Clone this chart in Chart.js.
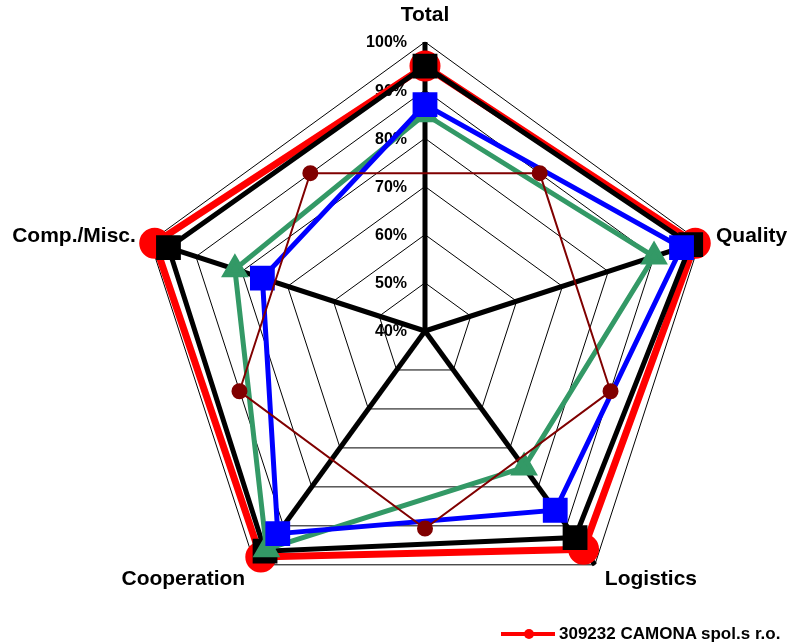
<!DOCTYPE html>
<html>
<head>
  <meta charset="utf-8">
  <title>Supplier rating</title>
  <script src="https://cdn.jsdelivr.net/npm/chart.js@4.4.1/dist/chart.umd.min.js"></script>
  <style>
    html, body { margin: 0; padding: 0; background: #fff; }
    #wrap { width: 788px; height: 643px; position: relative; overflow: hidden; }
    /* canvas a bit wider than the page so the web can use the room on the right */
    #myChart { position: absolute; left: -1px; top: 0; }
    .legend {
      position: absolute; left: 500px; top: 623px; height: 22px;
      display: flex; align-items: center;
      font: bold 17px "Liberation Sans", Arial, sans-serif; color: #000;
      white-space: nowrap;
    }
    .legend canvas { margin-right: 3px; }
  </style>
</head>
<body>
<div id="wrap">
  <canvas id="myChart" width="826" height="643"></canvas>
  <div class="legend" id="legend"></div>
</div>

<script>
// axes of the rating (clockwise from top)
var categories = ['Total', 'Quality', 'Logistics', 'Cooperation', 'Comp./Misc.'];
var tickLabels = ['40%', '50%', '60%', '70%', '80%', '90%', '100%'];
var tickValues = [40, 50, 60, 70, 80, 90, 100];

// series values in %, one per category
var camona = [95, 99, 96, 98, 99];
var seriesBlack = [95, 98, 93, 96.5, 96];
var seriesBlue = [87, 96, 86, 92, 75.5];
var seriesGreen = [85, 90, 75, 96, 81.5];
// this one sits between the axes (Total-Quality, Quality-Logistics, ...)
var seriesMaroon = [80.5, 80.5, 81, 80.5, 80.5];

var FONT = '"Liberation Sans", Arial, sans-serif';
var labelPad = [26, 17, 17, 17, 15];          // gap between web and axis title
var labelLine = ['2px', '1px', '1px', '1px', '1px'];

// 10 spokes: even = real axes, odd = the in-between positions
var labels = [];
categories.forEach(function(c) { labels.push(c); labels.push(''); });

function onAxes(vals) {
  var out = [];
  vals.forEach(function(v) { out.push(v); out.push(null); });
  return out;
}
function between(vals) {
  var out = [];
  vals.forEach(function(v) { out.push(null); out.push(v); });
  return out;
}

var webPlugin = {
  id: 'web',
  beforeDatasetsDraw: function(chart) {
    var r = chart.scales.r, ctx = chart.ctx;
    ctx.save();
    ctx.strokeStyle = '#000';
    ctx.lineWidth = 1;
    tickValues.forEach(function(v) {
      if (v === tickValues[0]) return;
      ctx.beginPath();
      for (var k = 0; k < categories.length; k++) {
        var p = r.getPointPositionForValue(k * 2, v);
        if (k === 0) ctx.moveTo(p.x, p.y); else ctx.lineTo(p.x, p.y);
      }
      ctx.closePath();
      ctx.stroke();
    });
    ctx.fillStyle = '#000';
    ctx.font = 'bold 16px ' + FONT;
    ctx.textAlign = 'right';
    ctx.textBaseline = 'middle';
    tickValues.forEach(function(v, i) {
      var d = r.getDistanceFromCenterForValue(v);
      ctx.fillText(tickLabels[i], r.xCenter - 18, r.yCenter - d + 1);
    });
    ctx.restore();
  }
};

var ctx = document.getElementById('myChart').getContext('2d');
var myChart = new Chart(ctx, {
  type: 'radar',
  data: {
    labels: labels,
    datasets: [
      {
        label: '309232 CAMONA spol.s r.o.',
        data: onAxes(camona),
        borderColor: '#ff0000', backgroundColor: '#ff0000',
        borderWidth: 7, pointRadius: 12, pointStyle: 'circle',
        order: 5
      },
      {
        label: 'Series 2',
        data: onAxes(seriesBlack),
        borderColor: '#000000', backgroundColor: '#000000',
        borderWidth: 5, pointRadius: 14, pointStyle: 'rect',
        order: 4
      },
      {
        label: 'Series 3',
        data: onAxes(seriesGreen),
        borderColor: '#339966', backgroundColor: '#339966',
        borderWidth: 5, pointRadius: 11, pointStyle: 'triangle',
        order: 3
      },
      {
        label: 'Series 4',
        data: onAxes(seriesBlue),
        borderColor: '#0000ff', backgroundColor: '#0000ff',
        borderWidth: 5, pointRadius: 14, pointStyle: 'rect',
        order: 2
      },
      {
        label: 'Series 5',
        data: between(seriesMaroon),
        borderColor: '#800000', backgroundColor: '#800000',
        borderWidth: 2, pointRadius: 7, pointStyle: 'circle',
        order: 1
      }
    ]
  },
  options: {
    responsive: false,
    animation: false,
    spanGaps: true,
    elements: {
      line: { fill: false, tension: 0 },
      point: { borderWidth: 0, hoverRadius: 12 }
    },
    layout: { padding: { top: 0, left: 0, right: 0, bottom: 9 } },
    scales: {
      r: {
        min: 40, max: 100,
        ticks: { display: false, stepSize: 10 },
        grid: { display: false },
        angleLines: {
          display: true,
          color: '#000',
          lineWidth: function(c) { return c.index % 2 ? 0 : 5; }
        },
        pointLabels: {
          color: '#000',
          // the in-between spokes have no label, keep them inside the web
          padding: function(c) { return c.index % 2 ? -80 : labelPad[c.index / 2]; },
          font: function(c) {
            if (c.index % 2) return { family: FONT, size: 1, lineHeight: '1px' };
            return { family: FONT, size: 21, weight: 'bold', lineHeight: labelLine[c.index / 2] };
          }
        }
      }
    },
    plugins: {
      tooltip: { enabled: false },
      legend: { display: false }
    }
  },
  plugins: [webPlugin]
});

// legend: only the first series is listed, line with a dot like the original
var legend = document.getElementById('legend');
var icon = document.createElement('canvas');
icon.width = 56; icon.height = 12;
var ic = icon.getContext('2d');
ic.strokeStyle = '#ff0000'; ic.lineWidth = 4;
ic.beginPath(); ic.moveTo(1, 6); ic.lineTo(55, 6); ic.stroke();
ic.fillStyle = '#ff0000';
ic.beginPath(); ic.arc(29, 6, 5, 0, Math.PI * 2); ic.fill();
legend.appendChild(icon);
var txt = document.createElement('span');
txt.textContent = myChart.data.datasets[0].label;
legend.appendChild(txt);
</script>
</body>
</html>
